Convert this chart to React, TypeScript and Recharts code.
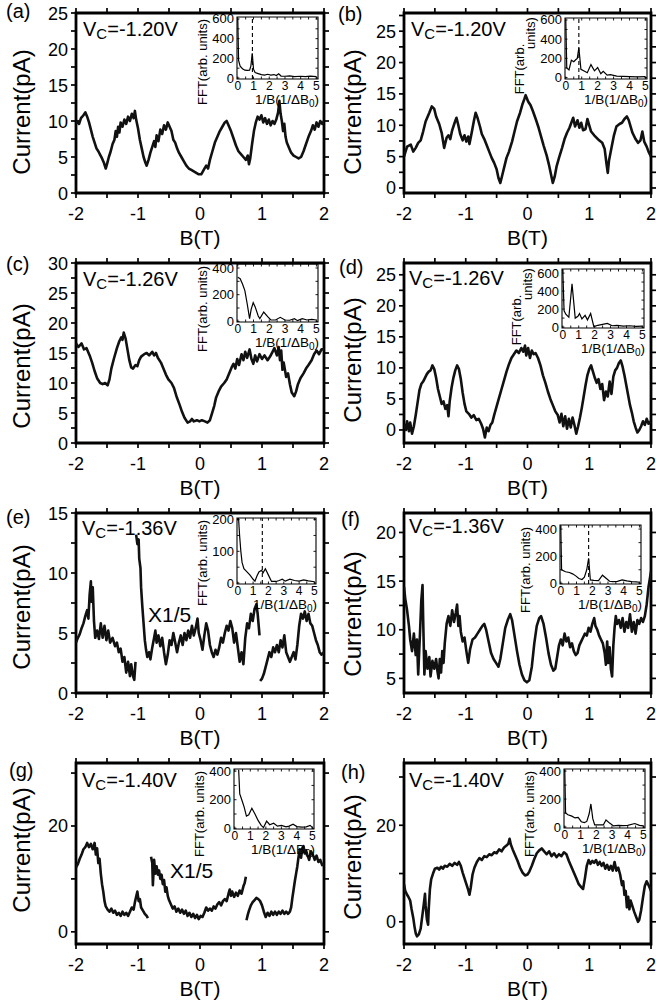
import React from 'react';
import { LineChart, Line, XAxis, YAxis, ReferenceLine, ReferenceArea } from 'recharts';

type Pt = [number, number | null];

const FONT = '"Liberation Sans", Arial, Helvetica, sans-serif';

// ---------- axis ticks ----------
const fieldTicks = [-2, -1.5, -1, -0.5, 0, 0.5, 1, 1.5, 2];
const fieldLabels = [-2, -1, 0, 1, 2];
const fftXTicks = [0, 0.5, 1, 1.5, 2, 2.5, 3, 3.5, 4, 4.5, 5];
const fftXLabels = [0, 1, 2, 3, 4, 5];
const ticks25 = [0, 2.5, 5, 7.5, 10, 12.5, 15, 17.5, 20, 22.5, 25];
const ticks27 = [0, 2.5, 5, 7.5, 10, 12.5, 15, 17.5, 20, 22.5, 25, 27.5];
const ticks30 = [0, 2.5, 5, 7.5, 10, 12.5, 15, 17.5, 20, 22.5, 25, 27.5, 30];
const ticks15 = [0, 2.5, 5, 7.5, 10, 12.5, 15];
const ticks5to20 = [5, 7.5, 10, 12.5, 15, 17.5, 20];
const ticks0to30 = [0, 10, 20, 30];
const labels25 = [0, 5, 10, 15, 20, 25];
const labels30 = [0, 5, 10, 15, 20, 25, 30];
const labels15 = [0, 5, 10, 15];
const labels5to20 = [5, 10, 15, 20];
const labels0to20 = [0, 20];
const fft600Ticks = [0, 100, 200, 300, 400, 500, 600];
const fft600Labels = [0, 200, 400, 600];
const fft400Ticks = [0, 100, 200, 300, 400];
const fft400Labels = [0, 200, 400];
const fft200Ticks = [0, 50, 100, 150, 200];
const fft200Labels = [0, 100, 200];

const panelLetters = ['(a)', '(b)', '(c)', '(d)', '(e)', '(f)', '(g)', '(h)'];
const gateVoltages = ['-1.20V', '-1.20V', '-1.26V', '-1.26V', '-1.36V', '-1.36V', '-1.40V', '-1.40V'];

// ---------- current vs field (B, I) ----------
const curveA: Pt[] = [
  [-2.0, 9.6], [-1.97, 10.0], [-1.95, 9.6], [-1.92, 10.4], [-1.88, 10.8], [-1.85, 11.2], [-1.82, 10.6], [-1.79, 9.8],
  [-1.76, 8.8], [-1.73, 7.8], [-1.7, 7.0], [-1.67, 6.2], [-1.64, 5.8], [-1.61, 5.3], [-1.58, 4.8], [-1.55, 4.2],
  [-1.52, 3.4], [-1.5, 4.0], [-1.47, 5.0], [-1.44, 5.8], [-1.41, 6.8], [-1.38, 7.4], [-1.36, 8.6], [-1.34, 7.8],
  [-1.32, 9.2], [-1.3, 8.4], [-1.28, 9.8], [-1.25, 9.2], [-1.22, 10.2], [-1.19, 9.6], [-1.16, 10.6], [-1.13, 10.0],
  [-1.1, 11.0], [-1.07, 10.4], [-1.05, 11.4], [-1.03, 10.2], [-1.0, 9.0], [-0.97, 7.4], [-0.94, 6.2], [-0.91, 5.0],
  [-0.88, 4.2], [-0.86, 3.8], [-0.83, 4.6], [-0.8, 5.6], [-0.77, 6.4], [-0.74, 7.2], [-0.72, 6.4], [-0.7, 8.0],
  [-0.67, 7.2], [-0.64, 8.8], [-0.61, 8.2], [-0.58, 9.4], [-0.55, 8.8], [-0.52, 9.8], [-0.49, 9.2], [-0.46, 8.6],
  [-0.43, 7.4], [-0.4, 7.0], [-0.37, 6.2], [-0.34, 5.6], [-0.3, 5.0], [-0.26, 4.4], [-0.22, 3.8], [-0.18, 3.4],
  [-0.14, 3.2], [-0.1, 3.0], [-0.06, 2.8], [-0.02, 2.6], [0.02, 2.6], [0.06, 3.2], [0.1, 3.8], [0.13, 3.4],
  [0.16, 4.6], [0.2, 5.8], [0.24, 7.0], [0.28, 7.8], [0.32, 8.6], [0.36, 9.2], [0.4, 9.8], [0.43, 10.0],
  [0.46, 9.4], [0.5, 8.6], [0.54, 7.6], [0.58, 6.6], [0.62, 5.8], [0.66, 5.4], [0.7, 5.0], [0.74, 4.6],
  [0.77, 5.2], [0.79, 4.0], [0.81, 4.8], [0.84, 6.8], [0.87, 8.6], [0.9, 9.8], [0.93, 10.6], [0.96, 10.2],
  [0.99, 10.8], [1.02, 9.8], [1.05, 10.4], [1.08, 9.6], [1.11, 10.2], [1.14, 9.4], [1.17, 10.0], [1.2, 9.6],
  [1.23, 10.2], [1.26, 11.2], [1.28, 12.8], [1.3, 11.0], [1.32, 10.0], [1.34, 8.6], [1.36, 9.6], [1.38, 7.8],
  [1.4, 7.0], [1.43, 6.4], [1.47, 5.6], [1.51, 5.2], [1.55, 5.0], [1.59, 4.8], [1.63, 5.0], [1.67, 5.8],
  [1.71, 6.8], [1.75, 7.8], [1.79, 8.6], [1.82, 9.4], [1.85, 8.8], [1.88, 9.8], [1.91, 9.2], [1.94, 10.0],
  [1.97, 9.6], [2.0, 10.0],
];

const curveB: Pt[] = [
  [-2.0, 5.0], [-1.95, 6.6], [-1.89, 6.9], [-1.85, 5.8], [-1.81, 6.4], [-1.77, 7.2], [-1.73, 7.6], [-1.69, 9.0],
  [-1.65, 10.6], [-1.59, 12.0], [-1.55, 13.0], [-1.51, 12.6], [-1.48, 11.4], [-1.43, 10.2], [-1.39, 8.8], [-1.37, 7.6],
  [-1.35, 6.4], [-1.31, 8.0], [-1.28, 8.4], [-1.25, 7.8], [-1.22, 9.2], [-1.18, 10.4], [-1.15, 11.2], [-1.12, 10.0],
  [-1.09, 8.6], [-1.05, 7.6], [-1.02, 8.4], [-0.99, 7.4], [-0.96, 8.2], [-0.94, 7.0], [-0.9, 9.0], [-0.87, 10.6],
  [-0.84, 12.0], [-0.81, 11.2], [-0.77, 9.8], [-0.74, 8.6], [-0.7, 7.8], [-0.66, 6.8], [-0.62, 5.8], [-0.58, 4.8],
  [-0.54, 4.0], [-0.5, 3.0], [-0.47, 1.6], [-0.44, 0.8], [-0.41, 2.0], [-0.37, 3.6], [-0.34, 4.8], [-0.3, 5.8],
  [-0.25, 7.4], [-0.21, 9.0], [-0.17, 10.6], [-0.12, 12.0], [-0.08, 13.4], [-0.05, 14.2], [-0.03, 14.8], [0.01, 13.8],
  [0.05, 13.2], [0.09, 12.2], [0.14, 10.8], [0.18, 9.6], [0.22, 8.2], [0.26, 6.8], [0.31, 5.2], [0.35, 3.6],
  [0.38, 2.2], [0.41, 0.8], [0.44, 1.8], [0.47, 3.4], [0.51, 4.8], [0.56, 6.4], [0.6, 7.8], [0.64, 8.8],
  [0.68, 9.6], [0.71, 10.4], [0.74, 11.2], [0.77, 9.8], [0.81, 10.8], [0.84, 9.6], [0.87, 10.4], [0.9, 9.2],
  [0.94, 9.4], [0.97, 11.0], [1.0, 10.0], [1.03, 9.0], [1.08, 8.4], [1.12, 8.0], [1.16, 7.6], [1.21, 7.2],
  [1.25, 6.2], [1.28, 3.8], [1.3, 2.4], [1.32, 4.4], [1.36, 6.4], [1.4, 8.4], [1.44, 9.8], [1.49, 10.2],
  [1.53, 10.4], [1.57, 11.0], [1.61, 11.4], [1.64, 10.8], [1.67, 9.8], [1.7, 8.8], [1.75, 7.8], [1.79, 7.2],
  [1.83, 7.6], [1.86, 9.0], [1.89, 7.4], [1.93, 6.6], [1.96, 5.8], [2.0, 5.0],
];

const curveC: Pt[] = [
  [-2.0, 16.6], [-1.96, 16.0], [-1.91, 16.6], [-1.87, 15.6], [-1.83, 15.8], [-1.78, 14.6], [-1.74, 13.4], [-1.7, 12.0],
  [-1.66, 10.8], [-1.61, 10.0], [-1.57, 9.8], [-1.53, 10.0], [-1.49, 9.6], [-1.46, 10.6], [-1.43, 12.4], [-1.39, 14.0],
  [-1.34, 15.8], [-1.3, 17.0], [-1.27, 17.6], [-1.25, 17.2], [-1.23, 18.4], [-1.2, 17.4], [-1.17, 15.6], [-1.14, 13.8],
  [-1.11, 12.6], [-1.08, 12.4], [-1.04, 13.0], [-1.01, 12.8], [-0.98, 13.8], [-0.95, 14.4], [-0.9, 14.8], [-0.86, 15.0],
  [-0.82, 14.6], [-0.77, 15.2], [-0.74, 14.6], [-0.71, 15.0], [-0.68, 14.2], [-0.63, 13.4], [-0.59, 12.4], [-0.55, 11.4],
  [-0.51, 10.6], [-0.46, 10.0], [-0.42, 9.2], [-0.38, 7.8], [-0.33, 6.4], [-0.29, 5.2], [-0.25, 4.2], [-0.2, 3.4],
  [-0.16, 3.6], [-0.13, 4.0], [-0.1, 3.6], [-0.05, 3.8], [-0.01, 3.6], [0.03, 3.8], [0.08, 3.6], [0.12, 3.4],
  [0.16, 3.8], [0.19, 4.8], [0.23, 6.2], [0.26, 7.6], [0.3, 8.6], [0.34, 9.4], [0.39, 10.0], [0.43, 10.6],
  [0.47, 11.6], [0.51, 12.6], [0.54, 13.2], [0.57, 12.4], [0.6, 14.0], [0.63, 13.0], [0.67, 14.8], [0.7, 13.8],
  [0.73, 15.2], [0.76, 14.2], [0.8, 15.6], [0.83, 14.0], [0.86, 13.2], [0.89, 14.6], [0.92, 13.6], [0.96, 14.8],
  [1.0, 14.0], [1.04, 14.6], [1.09, 13.8], [1.13, 14.4], [1.17, 15.2], [1.2, 15.8], [1.24, 14.6], [1.27, 16.0],
  [1.29, 13.8], [1.31, 15.4], [1.33, 12.2], [1.35, 13.4], [1.39, 11.0], [1.42, 11.6], [1.45, 9.8], [1.48, 8.4],
  [1.52, 7.8], [1.55, 8.6], [1.58, 9.8], [1.62, 10.8], [1.67, 11.6], [1.71, 12.4], [1.75, 13.0], [1.8, 13.8],
  [1.84, 14.8], [1.88, 15.4], [1.92, 14.8], [1.96, 15.6], [2.0, 15.6],
];

const curveD: Pt[] = [
  [-2.0, 1.0], [-1.97, 0.0], [-1.95, 1.4], [-1.92, -0.2], [-1.9, 1.2], [-1.87, -0.6], [-1.84, 0.6], [-1.81, 2.4],
  [-1.78, 4.4], [-1.75, 6.4], [-1.72, 7.4], [-1.69, 7.8], [-1.66, 8.4], [-1.63, 9.0], [-1.6, 9.4], [-1.57, 9.6],
  [-1.54, 10.4], [-1.51, 9.8], [-1.48, 8.4], [-1.45, 6.6], [-1.42, 5.4], [-1.39, 4.2], [-1.36, 4.6], [-1.33, 3.4],
  [-1.3, 4.0], [-1.28, 2.2], [-1.26, 4.6], [-1.23, 6.8], [-1.2, 8.4], [-1.17, 9.6], [-1.14, 10.4], [-1.11, 9.8],
  [-1.08, 8.2], [-1.05, 6.0], [-1.02, 4.2], [-0.99, 3.0], [-0.95, 2.6], [-0.91, 2.0], [-0.87, 2.4], [-0.83, 1.6],
  [-0.79, 1.8], [-0.75, 1.0], [-0.72, 0.2], [-0.69, -1.2], [-0.66, 0.4], [-0.63, -0.2], [-0.6, 0.8], [-0.57, 1.2],
  [-0.54, 2.4], [-0.5, 3.8], [-0.46, 5.2], [-0.42, 6.6], [-0.38, 8.0], [-0.34, 9.4], [-0.3, 10.6], [-0.26, 11.6],
  [-0.22, 12.2], [-0.18, 12.8], [-0.14, 12.4], [-0.1, 13.2], [-0.07, 12.6], [-0.04, 13.6], [-0.02, 12.0], [0.01, 13.2],
  [0.04, 11.6], [0.07, 12.8], [0.1, 12.2], [0.13, 12.4], [0.17, 11.6], [0.21, 10.4], [0.25, 8.8], [0.29, 7.6],
  [0.33, 6.2], [0.37, 5.0], [0.41, 4.0], [0.45, 3.0], [0.49, 2.4], [0.52, 1.2], [0.55, 2.6], [0.58, 0.6],
  [0.61, 2.2], [0.64, 0.2], [0.67, 1.8], [0.7, 0.4], [0.73, 2.0], [0.76, 0.8], [0.79, -0.6], [0.82, 0.6],
  [0.85, 2.0], [0.88, 3.6], [0.91, 5.4], [0.94, 7.2], [0.97, 8.8], [1.0, 9.8], [1.03, 10.4], [1.06, 9.4],
  [1.09, 8.4], [1.12, 7.6], [1.15, 8.2], [1.18, 6.6], [1.21, 7.4], [1.24, 4.8], [1.27, 6.2], [1.3, 5.4],
  [1.33, 7.8], [1.36, 5.8], [1.39, 8.6], [1.42, 9.6], [1.45, 10.0], [1.48, 10.8], [1.51, 11.2], [1.54, 10.2],
  [1.57, 8.8], [1.6, 7.2], [1.63, 5.6], [1.66, 4.0], [1.69, 2.8], [1.72, 1.4], [1.75, 0.4], [1.78, -0.4],
  [1.81, 0.0], [1.84, 0.6], [1.87, 1.4], [1.9, 0.8], [1.93, 1.8], [1.96, 1.0], [2.0, 1.4],
];

const curveE: Pt[] = [
  [-2.0, 4.2], [-1.97, 4.6], [-1.94, 4.9], [-1.91, 5.4], [-1.88, 5.8], [-1.85, 6.4], [-1.82, 6.9], [-1.8, 6.2],
  [-1.78, 8.2], [-1.76, 9.3], [-1.75, 7.6], [-1.73, 8.8], [-1.71, 6.0], [-1.69, 4.6], [-1.66, 5.2], [-1.63, 4.5],
  [-1.6, 5.8], [-1.57, 4.6], [-1.54, 5.6], [-1.51, 4.4], [-1.48, 5.2], [-1.45, 4.2], [-1.41, 4.6], [-1.37, 3.9],
  [-1.34, 4.2], [-1.31, 3.4], [-1.28, 3.7], [-1.25, 2.6], [-1.22, 3.0], [-1.19, 1.7], [-1.16, 2.6], [-1.13, 1.4],
  [-1.11, 2.4], [-1.08, 1.4], [-1.06, 1.1], [-1.04, 2.6], [-1.035, null],
  [-1.03, 13.2], [-1.01, 12.4], [-0.99, 12.8], [-0.98, 11.2], [-0.96, 10.4], [-0.95, 8.8], [-0.93, 7.2], [-0.91, 5.8],
  [-0.89, 4.4], [-0.87, 3.6], [-0.85, 3.0], [-0.82, 3.4], [-0.8, 2.8], [-0.77, 3.8], [-0.74, 4.6], [-0.72, 5.2],
  [-0.7, 4.2], [-0.67, 4.8], [-0.64, 3.9], [-0.61, 4.6], [-0.58, 3.4], [-0.55, 2.4], [-0.52, 3.2], [-0.49, 4.4],
  [-0.46, 4.0], [-0.43, 5.0], [-0.4, 4.2], [-0.37, 3.4], [-0.34, 4.2], [-0.31, 4.8], [-0.28, 4.0], [-0.25, 5.0],
  [-0.22, 4.4], [-0.19, 5.2], [-0.16, 4.6], [-0.13, 5.6], [-0.1, 4.8], [-0.07, 5.4], [-0.04, 6.2], [-0.02, 5.0],
  [0.01, 4.4], [0.04, 3.6], [0.07, 4.8], [0.1, 5.8], [0.13, 5.2], [0.16, 4.0], [0.19, 3.4], [0.22, 3.0],
  [0.25, 3.6], [0.28, 3.2], [0.31, 3.8], [0.34, 4.6], [0.37, 4.2], [0.4, 5.0], [0.43, 5.6], [0.46, 5.2],
  [0.49, 6.0], [0.52, 5.4], [0.55, 4.2], [0.58, 5.0], [0.61, 3.8], [0.64, 2.6], [0.67, 3.4], [0.7, 2.4],
  [0.73, 4.6], [0.76, 5.8], [0.79, 5.4], [0.82, 6.6], [0.85, 6.0], [0.88, 7.0], [0.91, 7.4], [0.93, 6.6],
  [0.95, 5.4], [0.96, 4.8], [0.965, null],
  [0.97, 1.0], [1.0, 1.2], [1.03, 1.6], [1.06, 2.2], [1.09, 2.8], [1.12, 3.4], [1.15, 3.0], [1.18, 3.8],
  [1.21, 3.4], [1.24, 4.0], [1.27, 3.4], [1.3, 4.4], [1.33, 3.8], [1.36, 4.8], [1.39, 3.4], [1.42, 3.0],
  [1.45, 2.6], [1.48, 3.0], [1.51, 3.4], [1.54, 2.8], [1.57, 4.0], [1.6, 5.6], [1.63, 6.6], [1.66, 6.2],
  [1.69, 6.8], [1.72, 6.0], [1.75, 6.6], [1.78, 5.8], [1.81, 5.6], [1.84, 5.0], [1.87, 4.4], [1.9, 4.0],
  [1.93, 3.4], [1.96, 3.2], [2.0, 3.4],
];

const curveF: Pt[] = [
  [-2.0, 14.4], [-1.98, 13.2], [-1.95, 12.0], [-1.92, 10.4], [-1.9, 9.0], [-1.87, 7.8], [-1.84, 9.6], [-1.81, 7.4],
  [-1.79, 9.0], [-1.77, 5.4], [-1.74, 9.8], [-1.72, 13.0], [-1.7, 14.6], [-1.69, 11.2], [-1.67, 5.4], [-1.65, 7.8],
  [-1.62, 6.0], [-1.59, 7.2], [-1.57, 5.2], [-1.54, 6.8], [-1.51, 6.0], [-1.48, 7.0], [-1.46, 5.8], [-1.44, 5.0],
  [-1.42, 7.0], [-1.4, 5.6], [-1.38, 7.8], [-1.36, 6.6], [-1.34, 8.6], [-1.31, 10.6], [-1.28, 11.4], [-1.25, 10.4],
  [-1.22, 12.0], [-1.19, 10.8], [-1.16, 11.8], [-1.14, 12.6], [-1.12, 10.4], [-1.1, 11.4], [-1.08, 9.8], [-1.05, 8.8],
  [-1.02, 9.2], [-0.99, 7.8], [-0.96, 6.6], [-0.93, 8.0], [-0.89, 9.0], [-0.85, 9.2], [-0.81, 9.6], [-0.77, 10.0],
  [-0.73, 10.4], [-0.7, 10.6], [-0.67, 10.0], [-0.63, 8.8], [-0.59, 7.6], [-0.55, 7.0], [-0.51, 6.6], [-0.47, 6.2],
  [-0.44, 7.0], [-0.4, 8.6], [-0.36, 10.2], [-0.32, 11.0], [-0.28, 11.6], [-0.25, 11.0], [-0.21, 9.4], [-0.17, 7.8],
  [-0.13, 6.4], [-0.09, 5.4], [-0.05, 4.8], [-0.01, 4.6], [0.03, 4.8], [0.07, 6.2], [0.11, 8.6], [0.15, 10.4],
  [0.19, 11.2], [0.22, 11.4], [0.26, 10.6], [0.3, 9.2], [0.34, 7.6], [0.38, 6.4], [0.42, 5.8], [0.45, 6.0],
  [0.48, 7.2], [0.51, 8.4], [0.54, 9.0], [0.57, 8.4], [0.6, 9.6], [0.63, 8.8], [0.66, 9.2], [0.69, 8.2],
  [0.72, 8.6], [0.75, 7.8], [0.78, 7.4], [0.81, 7.6], [0.84, 8.4], [0.87, 8.8], [0.9, 9.2], [0.93, 9.6],
  [0.96, 9.4], [0.99, 10.2], [1.02, 9.8], [1.05, 10.6], [1.08, 11.2], [1.1, 10.4], [1.13, 10.0], [1.16, 9.4],
  [1.19, 9.0], [1.22, 8.6], [1.25, 7.6], [1.27, 6.4], [1.29, 8.8], [1.31, 6.6], [1.33, 8.2], [1.35, 6.0],
  [1.37, 5.2], [1.39, 8.4], [1.41, 10.2], [1.43, 11.4], [1.45, 10.6], [1.48, 11.0], [1.51, 10.2], [1.54, 11.2],
  [1.57, 9.8], [1.6, 10.8], [1.63, 10.2], [1.66, 11.6], [1.69, 9.8], [1.72, 10.8], [1.75, 9.6], [1.78, 11.0],
  [1.81, 10.6], [1.84, 11.2], [1.87, 10.8], [1.9, 11.4], [1.93, 12.6], [1.96, 14.4], [1.98, 15.2], [2.0, 16.0],
];

const curveG: Pt[] = [
  [-2.0, 12.2], [-1.97, 12.8], [-1.94, 13.8], [-1.91, 14.6], [-1.88, 15.6], [-1.85, 16.0], [-1.82, 16.8], [-1.79, 16.0],
  [-1.76, 16.6], [-1.73, 15.6], [-1.7, 16.8], [-1.68, 14.6], [-1.66, 15.8], [-1.64, 13.0], [-1.62, 13.8], [-1.6, 11.0],
  [-1.58, 9.0], [-1.56, 7.6], [-1.54, 5.8], [-1.52, 4.8], [-1.49, 4.2], [-1.46, 3.8], [-1.43, 4.4], [-1.4, 3.6],
  [-1.37, 4.0], [-1.34, 3.2], [-1.31, 3.6], [-1.28, 3.0], [-1.25, 3.8], [-1.22, 3.2], [-1.19, 3.6], [-1.16, 3.0],
  [-1.13, 3.8], [-1.1, 4.6], [-1.07, 4.2], [-1.05, 5.6], [-1.03, 6.6], [-1.01, 7.6], [-0.99, 5.8], [-0.97, 6.2],
  [-0.95, 4.6], [-0.92, 4.0], [-0.89, 3.4], [-0.86, 3.0], [-0.84, 2.6], [-0.815, null],
  [-0.79, 14.2], [-0.77, 13.0], [-0.76, 8.8], [-0.74, 13.6], [-0.72, 11.0], [-0.7, 12.4], [-0.68, 10.8], [-0.66, 11.6],
  [-0.64, 10.0], [-0.62, 10.8], [-0.6, 9.0], [-0.58, 9.8], [-0.56, 7.6], [-0.54, 8.4], [-0.52, 6.8], [-0.5, 6.0],
  [-0.47, 5.2], [-0.44, 4.4], [-0.41, 4.8], [-0.38, 3.8], [-0.35, 4.4], [-0.32, 3.6], [-0.29, 4.2], [-0.26, 3.4],
  [-0.23, 4.0], [-0.2, 3.0], [-0.17, 3.6], [-0.14, 2.8], [-0.11, 3.4], [-0.08, 2.6], [-0.05, 3.2], [-0.02, 2.4],
  [0.01, 3.0], [0.04, 2.8], [0.07, 3.6], [0.1, 4.6], [0.13, 4.0], [0.16, 4.4], [0.19, 4.0], [0.22, 4.8],
  [0.25, 4.4], [0.28, 5.2], [0.31, 5.6], [0.34, 5.0], [0.37, 5.8], [0.4, 6.2], [0.43, 5.8], [0.46, 7.2],
  [0.48, 8.0], [0.5, 6.8], [0.52, 7.6], [0.55, 6.6], [0.58, 7.4], [0.61, 6.8], [0.64, 7.8], [0.67, 7.2],
  [0.7, 8.6], [0.72, 9.2], [0.74, 10.4], [0.745, null],
  [0.75, 2.2], [0.77, 3.2], [0.79, 4.0], [0.82, 5.0], [0.85, 5.6], [0.88, 6.0], [0.91, 6.4], [0.94, 6.2],
  [0.97, 5.8], [1.0, 5.0], [1.03, 3.8], [1.06, 2.8], [1.09, 3.6], [1.12, 3.0], [1.15, 3.8], [1.18, 3.2],
  [1.21, 3.8], [1.24, 3.2], [1.27, 3.8], [1.3, 3.4], [1.33, 4.0], [1.36, 3.4], [1.39, 3.8], [1.42, 3.4],
  [1.45, 3.8], [1.47, 4.6], [1.49, 6.4], [1.51, 8.0], [1.53, 9.6], [1.55, 11.0], [1.57, 12.4], [1.59, 14.2],
  [1.61, 15.6], [1.63, 14.0], [1.65, 15.8], [1.67, 16.2], [1.69, 14.8], [1.71, 15.4], [1.73, 14.6], [1.76, 13.6],
  [1.79, 15.2], [1.82, 14.6], [1.85, 13.6], [1.88, 14.4], [1.91, 13.2], [1.94, 13.6], [1.97, 12.6], [2.0, 12.8],
];

const curveH: Pt[] = [
  [-2.0, 7.8], [-1.98, 6.4], [-1.95, 5.6], [-1.93, 5.2], [-1.9, 4.4], [-1.88, 2.8], [-1.85, 0.8], [-1.83, -1.0],
  [-1.81, -2.4], [-1.79, -3.0], [-1.76, -2.6], [-1.73, -1.4], [-1.7, 1.6], [-1.68, 3.6], [-1.66, 5.8], [-1.65, 3.4],
  [-1.63, 0.6], [-1.61, -0.6], [-1.6, 2.6], [-1.58, 6.8], [-1.56, 8.8], [-1.53, 10.0], [-1.5, 11.0], [-1.46, 11.2],
  [-1.43, 10.8], [-1.4, 11.4], [-1.37, 11.0], [-1.34, 11.6], [-1.3, 11.4], [-1.26, 12.0], [-1.22, 11.6], [-1.18, 12.2],
  [-1.14, 11.8], [-1.11, 12.4], [-1.08, 11.6], [-1.05, 10.2], [-1.02, 9.0], [-0.99, 7.8], [-0.96, 6.6], [-0.94, 5.6],
  [-0.92, 7.0], [-0.89, 9.8], [-0.86, 11.2], [-0.82, 12.4], [-0.78, 13.2], [-0.74, 12.8], [-0.7, 13.6], [-0.66, 13.4],
  [-0.62, 14.0], [-0.58, 13.8], [-0.54, 14.4], [-0.5, 14.2], [-0.46, 15.0], [-0.42, 14.6], [-0.38, 15.4], [-0.34, 15.8],
  [-0.31, 16.2], [-0.29, 17.2], [-0.27, 16.0], [-0.24, 15.0], [-0.2, 13.8], [-0.16, 12.6], [-0.12, 11.2], [-0.08, 10.2],
  [-0.04, 9.6], [0.0, 9.8], [0.03, 10.4], [0.07, 11.6], [0.11, 13.0], [0.15, 14.2], [0.19, 14.8], [0.23, 15.2],
  [0.27, 14.6], [0.31, 14.0], [0.35, 14.6], [0.39, 13.6], [0.43, 14.2], [0.47, 13.4], [0.51, 14.0], [0.55, 13.6],
  [0.59, 14.4], [0.63, 14.0], [0.67, 12.6], [0.71, 11.4], [0.75, 10.2], [0.79, 9.0], [0.83, 7.8], [0.87, 7.2],
  [0.9, 6.8], [0.93, 9.0], [0.96, 11.6], [0.99, 12.8], [1.02, 12.0], [1.05, 12.6], [1.08, 12.2], [1.11, 12.8],
  [1.14, 11.8], [1.17, 12.4], [1.2, 11.6], [1.23, 12.2], [1.26, 11.0], [1.29, 11.8], [1.32, 10.8], [1.35, 11.6],
  [1.38, 10.6], [1.41, 12.4], [1.44, 10.6], [1.47, 11.2], [1.5, 9.8], [1.53, 7.6], [1.55, 8.4], [1.57, 5.6],
  [1.59, 6.4], [1.61, 3.0], [1.63, 5.2], [1.65, 2.6], [1.67, 4.4], [1.7, 3.2], [1.73, 2.0], [1.76, 1.0],
  [1.79, 0.0], [1.81, 0.4], [1.84, 2.4], [1.87, 5.0], [1.9, 7.4], [1.93, 8.4], [1.96, 7.6], [2.0, 6.4],
];

// ---------- FFT insets (1/B in units of 1/ΔB0, amplitude) ----------
const fftA: Pt[] = [
  [0.0, 600], [0.05, 180], [0.15, 120], [0.3, 95], [0.45, 80], [0.6, 78], [0.75, 80], [0.83, 120], [0.92, 250],
  [1.0, 90], [1.1, 55], [1.3, 45], [1.5, 35], [1.7, 30], [1.9, 38], [2.1, 30], [2.3, 35], [2.45, 25], [2.6, 42],
  [2.75, 20], [3.0, 18], [3.3, 22], [3.6, 15], [4.0, 18], [4.3, 14], [4.6, 20], [5.0, 15],
];
const fftB: Pt[] = [
  [0.0, 600], [0.06, 100], [0.2, 80], [0.35, 180], [0.5, 165], [0.62, 185], [0.72, 200], [0.82, 310], [0.95, 85],
  [1.15, 68], [1.35, 50], [1.58, 135], [1.8, 70], [2.0, 105], [2.2, 40], [2.35, 65], [2.6, 25], [2.8, 30],
  [3.2, 15], [3.6, 12], [4.0, 10], [4.5, 8], [5.0, 10],
];
const fftC: Pt[] = [
  [0.0, 330], [0.15, 320], [0.3, 280], [0.45, 230], [0.6, 130], [0.75, 20], [0.85, 90], [0.98, 140], [1.1, 110],
  [1.3, 40], [1.4, 20], [1.65, 70], [1.9, 35], [2.1, 10], [2.4, 10], [2.7, 30], [3.0, 10], [3.3, 8], [3.6, 20],
  [3.8, 5], [4.1, 20], [4.4, 10], [4.7, 15], [5.0, 10],
];
const fftD: Pt[] = [
  [0.0, 640], [0.08, 180], [0.2, 140], [0.38, 110], [0.58, 480], [0.78, 100], [0.95, 120], [1.05, 150], [1.2, 90],
  [1.4, 130], [1.55, 80], [1.75, 150], [1.95, 5], [2.2, 20], [2.5, 30], [2.8, 40], [3.1, 15], [3.4, 20],
  [3.8, 10], [4.2, 15], [4.6, 8], [5.0, 10],
];
const fftE: Pt[] = [
  [0.05, 205], [0.12, 150], [0.2, 100], [0.28, 65], [0.4, 45], [0.6, 35], [0.8, 25], [1.0, 12], [1.12, 6],
  [1.25, 22], [1.38, 35], [1.55, 40], [1.65, 32], [1.8, 45], [2.0, 25], [2.2, 5], [2.5, 5], [2.7, 8], [2.9, 12],
  [3.1, 6], [3.4, 12], [3.7, 8], [4.0, 6], [4.3, 10], [4.6, 7], [5.0, 4],
];
const fftF: Pt[] = [
  [0.0, 420], [0.05, 100], [0.3, 85], [0.55, 80], [0.75, 70], [0.95, 55], [1.15, 35], [1.35, 28], [1.5, 45],
  [1.65, 100], [1.77, 185], [1.88, 25], [2.1, 22], [2.4, 20], [2.65, 60], [2.9, 35], [3.1, 15], [3.3, 12],
  [3.6, 15], [3.9, 25], [4.2, 18], [4.5, 12], [4.8, 10], [5.0, 8],
];
const fftG: Pt[] = [
  [0.25, 410], [0.32, 240], [0.45, 200], [0.6, 150], [0.75, 85], [0.9, 95], [1.1, 140], [1.3, 100], [1.5, 55],
  [1.7, 20], [1.85, 5], [2.05, 50], [2.25, 25], [2.5, 35], [2.75, 15], [3.0, 20], [3.3, 10], [3.5, 15],
  [3.75, 28], [4.0, 12], [4.3, 8], [4.6, 10], [4.85, 20], [5.0, 5],
];
const fftH: Pt[] = [
  [0.0, 410], [0.05, 100], [0.2, 88], [0.45, 78], [0.65, 65], [0.85, 68], [1.05, 38], [1.25, 32], [1.4, 40],
  [1.55, 95], [1.66, 165], [1.78, 60], [1.9, 15], [2.2, 15], [2.45, 15], [2.62, 50], [2.85, 28], [3.1, 8],
  [3.4, 12], [3.7, 10], [4.0, 12], [4.45, 25], [4.75, 12], [5.0, 8],
];

const fftDashes: (number | null)[] = [0.93, 0.82, null, null, 1.6, 1.77, null, null];

// ---------- layout (page coordinates) ----------
type Panel = {
  idx: number;
  col: number;
  row: number;
  curve: Pt[];
  yDomain: [number, number];
  yTicks: number[];
  yLabels: number[];
  letterPos: [number, number];
  vcPos: [number, number];
  yTitleY: number;
  note?: [number, number];
  fft: Pt[];
  fftDomain: [number, number];
  fftYTicks: number[];
  fftYLabels: number[];
  inset: [number, number, number, number];
  split: boolean;
};

const panels: Panel[] = [
  { idx: 0, col: 0, row: 0, curve: curveA, yDomain: [0, 25], yTicks: ticks25, yLabels: labels25,
    letterPos: [6, 18], vcPos: [83, 36], yTitleY: 112, fft: fftA, fftDomain: [-10, 620],
    fftYTicks: fft600Ticks, fftYLabels: fft600Labels, inset: [237, 17, 318, 79], split: false },
  { idx: 1, col: 1, row: 0, curve: curveB, yDomain: [-0.8, 27.9], yTicks: ticks27, yLabels: labels25,
    letterPos: [338, 21], vcPos: [411, 36], yTitleY: 112, fft: fftB, fftDomain: [-15, 620],
    fftYTicks: fft600Ticks, fftYLabels: fft600Labels, inset: [565, 18, 647, 79], split: true },
  { idx: 2, col: 0, row: 1, curve: curveC, yDomain: [0, 30], yTicks: ticks30, yLabels: labels30,
    letterPos: [6, 271], vcPos: [83, 286], yTitleY: 366, fft: fftC, fftDomain: [-5, 430],
    fftYTicks: fft400Ticks, fftYLabels: fft400Labels, inset: [237, 264, 318, 322], split: false },
  { idx: 3, col: 1, row: 1, curve: curveD, yDomain: [-2.1, 26.9], yTicks: ticks25, yLabels: labels25,
    letterPos: [339, 274], vcPos: [409, 285], yTitleY: 360, fft: fftD, fftDomain: [-10, 645],
    fftYTicks: fft600Ticks, fftYLabels: fft600Labels, inset: [562, 269, 644, 328], split: true },
  { idx: 4, col: 0, row: 2, curve: curveE, yDomain: [0, 15], yTicks: ticks15, yLabels: labels15,
    letterPos: [6, 524], vcPos: [82, 535], yTitleY: 607, note: [148, 622], fft: fftE, fftDomain: [-3, 205],
    fftYTicks: fft200Ticks, fftYLabels: fft200Labels, inset: [237, 518, 316, 584], split: false },
  { idx: 5, col: 1, row: 2, curve: curveF, yDomain: [3.5, 22], yTicks: ticks5to20, yLabels: labels5to20,
    letterPos: [341, 526], vcPos: [409, 533], yTitleY: 614, fft: fftF, fftDomain: [-5, 430],
    fftYTicks: fft400Ticks, fftYLabels: fft400Labels, inset: [560, 525, 641, 584], split: false },
  { idx: 6, col: 0, row: 3, curve: curveG, yDomain: [-2.3, 31.9], yTicks: ticks0to30, yLabels: labels0to20,
    letterPos: [9, 777], vcPos: [82, 787], yTitleY: 850, note: [170, 878], fft: fftG, fftDomain: [-5, 415],
    fftYTicks: fft400Ticks, fftYLabels: fft400Labels, inset: [234, 769, 314, 829], split: false },
  { idx: 7, col: 1, row: 3, curve: curveH, yDomain: [-4.6, 32.9], yTicks: ticks0to30, yLabels: labels0to20,
    letterPos: [341, 779], vcPos: [409, 787], yTitleY: 857, fft: fftH, fftDomain: [-7, 415],
    fftYTicks: fft400Ticks, fftYLabels: fft400Labels, inset: [564, 769, 645, 828], split: false },
];

// ---------- helpers ----------
const near = (list: number[], v: number) => list.some((l) => Math.abs(l - v) < 1e-9);

type Side = 'bottom' | 'top' | 'left' | 'right';

// Tick renderer: draws the tick mark (from the tick position Recharts supplies) plus an optional label.
// size/margin must match the axis' tickSize/tickMargin; len < 0 draws the mark inward.
const makeTick = (side: Side, size: number, margin: number, len: number, sw: number,
  labels: number[] | null, fontSize: number, dy: number, dx: number) =>
  (props: any) => {
    const { x, y, payload } = props;
    let x1 = x, y1 = y, x2 = x, y2 = y;
    if (side === 'bottom') { y1 = y - size - margin; y2 = y1 + len; }
    if (side === 'top') { y1 = y + size + margin; y2 = y1 - len; }
    if (side === 'left') { x1 = x + size + margin; x2 = x1 - len; }
    if (side === 'right') { x1 = x - size - margin; x2 = x1 + len; }
    const show = labels !== null && near(labels, payload.value);
    const anchor = side === 'left' ? 'end' : side === 'right' ? 'start' : 'middle';
    return (
      <g>
        <line x1={x1} y1={y1} x2={x2} y2={y2} stroke="#000" strokeWidth={sw} />
        {show ? (
          <text x={x + dx} y={y + dy} textAnchor={anchor} fontSize={fontSize} fontFamily={FONT} fill="#000">
            {String(payload.value)}
          </text>
        ) : null}
      </g>
    );
  };

function MainPanel({ p }: { p: Panel }) {
  const CL = p.col === 0 ? 0 : 330;
  const CW = p.col === 0 ? 330 : 326;
  const CT = p.row * 250;
  const CH = p.row === 3 ? 255 : 250;
  const plotL = p.col === 0 ? 76 : 404;
  const plotR = p.col === 0 ? 324 : 651;
  const plotT = 13 + p.row * 250;
  const plotB = p.row === 3 ? 944 : 193 + p.row * 250;
  const leftW = plotL - CL;
  const rightW = 5;
  const topH = 6;
  const bottomH = 50;
  const margin = { left: 0, right: CL + CW - plotR - rightW, top: plotT - CT - topH, bottom: CT + CH - plotB - bottomH };
  const data = p.curve.map(([b, i]) => ({ b, i }));
  const rx = (x: number) => x - CL;
  const ry = (y: number) => y - CT;
  const titleX = p.col === 0 ? 30 : 361;
  const cx = (plotL + plotR) / 2;
  return (
    <div style={{ position: 'absolute', left: CL, top: CT, width: CW, height: CH }}>
      <LineChart width={CW} height={CH} data={data} margin={margin}>
        <XAxis xAxisId="b" dataKey="b" type="number" domain={[-2, 2]} ticks={fieldTicks} interval={0}
          allowDataOverflow orientation="bottom" height={bottomH} stroke="#000" axisLine={false} tickLine={false}
          tickSize={5} tickMargin={2} tick={makeTick('bottom', 5, 2, 5, 1.7, fieldLabels, 18, 20, 0)} />
        <XAxis xAxisId="t" dataKey="b" type="number" domain={[-2, 2]} ticks={fieldTicks} interval={0}
          allowDataOverflow orientation="top" height={topH} stroke="#000" axisLine={false} tickLine={false}
          tickSize={5} tickMargin={2} tick={makeTick('top', 5, 2, 5, 1.7, null, 18, 0, 0)} />
        <YAxis yAxisId="l" type="number" domain={p.yDomain} ticks={p.yTicks} interval={0} allowDataOverflow
          width={leftW} stroke="#000" axisLine={false} tickLine={false} tickSize={5} tickMargin={3}
          tick={makeTick('left', 5, 3, 5, 1.7, p.yLabels, 18, 6.5, 0)} />
        <YAxis yAxisId="r" orientation="right" type="number" domain={p.yDomain} ticks={p.yTicks} interval={0}
          allowDataOverflow width={rightW} stroke="#000" axisLine={false} tickLine={false} tickSize={5} tickMargin={2}
          tick={makeTick('right', 5, 2, 5, 1.7, null, 18, 0, 0)} />
        <ReferenceArea xAxisId="b" yAxisId="l" x1={-2} x2={2} y1={p.yDomain[0]} y2={p.yDomain[1]}
          fill="none" fillOpacity={0} stroke="#000" strokeWidth={2.8} ifOverflow="visible" />
        <Line xAxisId="b" yAxisId="l" dataKey="i" type="linear" stroke="#111" strokeWidth={2.6} dot={false}
          activeDot={false} connectNulls={false} isAnimationActive={false} strokeLinejoin="round" />
        <text x={rx(p.letterPos[0])} y={ry(p.letterPos[1])} fontSize={20} fontFamily={FONT} fill="#000">
          {panelLetters[p.idx]}
        </text>
        <text x={rx(p.vcPos[0])} y={ry(p.vcPos[1])} fontSize={20} fontFamily={FONT} fill="#000">
          V<tspan fontSize={15} dy={3}>C</tspan><tspan dy={-3}>={gateVoltages[p.idx]}</tspan>
        </text>
        {p.note ? (
          <text x={rx(p.note[0])} y={ry(p.note[1])} fontSize={21} fontFamily={FONT} fill="#000">X1/5</text>
        ) : null}
        <text x={rx(cx)} y={ry(plotB + 52)} textAnchor="middle" fontSize={21} fontFamily={FONT} fill="#000">B(T)</text>
        <text x={rx(titleX)} y={ry(p.yTitleY)} textAnchor="middle" fontSize={24} fontFamily={FONT} fill="#000"
          transform={`rotate(-90 ${rx(titleX)} ${ry(p.yTitleY)})`}>Current(pA)</text>
      </LineChart>
    </div>
  );
}

function InsetPanel({ p }: { p: Panel }) {
  const [l, t, r, b] = p.inset;
  const leftW = 56;
  const CL = l - leftW;
  const CT = t - 12;
  const CW = r - l + leftW + 6;
  const CH = b - t + 12 + 32;
  const margin = { left: 0, right: 4, top: 10, bottom: 0 };
  const data = p.fft.map(([k, a]) => ({ k, a }));
  const rx = (x: number) => x - CL;
  const ry = (y: number) => y - CT;
  const dash = fftDashes[p.idx];
  const yc = t + 45;
  return (
    <div style={{ position: 'absolute', left: CL, top: CT, width: CW, height: CH }}>
      <LineChart width={CW} height={CH} data={data} margin={margin}>
        <XAxis xAxisId="b" dataKey="k" type="number" domain={[-0.05, 5.1]} ticks={fftXTicks} interval={0}
          allowDataOverflow orientation="bottom" height={32} stroke="#000" axisLine={false} tickLine={false}
          tickSize={2} tickMargin={2} tick={makeTick('bottom', 2, 2, -2.5, 0.9, fftXLabels, 12, 7, 0)} />
        <XAxis xAxisId="t" dataKey="k" type="number" domain={[-0.05, 5.1]} ticks={fftXTicks} interval={0}
          allowDataOverflow orientation="top" height={2} stroke="#000" axisLine={false} tickLine={false}
          tickSize={2} tickMargin={2} tick={makeTick('top', 2, 2, -2.5, 0.9, null, 12, 0, 0)} />
        <YAxis yAxisId="l" type="number" domain={p.fftDomain} ticks={p.fftYTicks} interval={0} allowDataOverflow
          width={leftW} stroke="#000" axisLine={false} tickLine={false} tickSize={2} tickMargin={2}
          tick={makeTick('left', 2, 2, -2.5, 0.9, p.fftYLabels, 13, 4.5, 1)} />
        <YAxis yAxisId="r" orientation="right" type="number" domain={p.fftDomain} ticks={p.fftYTicks} interval={0}
          allowDataOverflow width={2} stroke="#000" axisLine={false} tickLine={false} tickSize={2} tickMargin={2}
          tick={makeTick('right', 2, 2, -2.5, 0.9, null, 12, 0, 0)} />
        <ReferenceArea xAxisId="b" yAxisId="l" x1={-0.05} x2={5.1} y1={p.fftDomain[0]} y2={p.fftDomain[1]}
          fill="#fff" fillOpacity={0} stroke="#000" strokeWidth={1.1} ifOverflow="visible" />
        {dash !== null ? (
          <ReferenceLine xAxisId="b" yAxisId="l" x={dash} stroke="#000" strokeWidth={1.1} strokeDasharray="4 3" />
        ) : null}
        <Line xAxisId="b" yAxisId="l" dataKey="a" type="linear" stroke="#000" strokeWidth={1.2} dot={false}
          activeDot={false} isAnimationActive={false} />
        <text x={rx(r + 1)} y={ry(b + 25)} textAnchor="end" fontSize={13.5} fontFamily={FONT} fill="#000">
          1/B(1/ΔB<tspan fontSize={10} dy={3}>0</tspan><tspan dy={-3}>)</tspan>
        </text>
        {p.split ? (
          <>
            <text x={rx(l - 41)} y={ry(t + 51)} textAnchor="middle" fontSize={13} fontFamily={FONT} fill="#000"
              transform={`rotate(-90 ${rx(l - 41)} ${ry(t + 51)})`}>FFT(arb.</text>
            <text x={rx(l - 30)} y={ry(t + 15)} textAnchor="middle" fontSize={13} fontFamily={FONT} fill="#000"
              transform={`rotate(-90 ${rx(l - 30)} ${ry(t + 15)})`}>units)</text>
          </>
        ) : (
          <text x={rx(l - 30)} y={ry(yc)} textAnchor="middle" fontSize={13} fontFamily={FONT} fill="#000"
            transform={`rotate(-90 ${rx(l - 30)} ${ry(yc)})`}>FFT(arb. units)</text>
        )}
      </LineChart>
    </div>
  );
}

export default function App() {
  return (
    <div style={{ position: 'absolute', left: 0, top: 0, width: 656, height: 1005, background: '#fff', overflow: 'hidden' }}>
      {panels.map((p) => (
        <MainPanel key={`m${p.idx}`} p={p} />
      ))}
      {panels.map((p) => (
        <InsetPanel key={`i${p.idx}`} p={p} />
      ))}
    </div>
  );
}
